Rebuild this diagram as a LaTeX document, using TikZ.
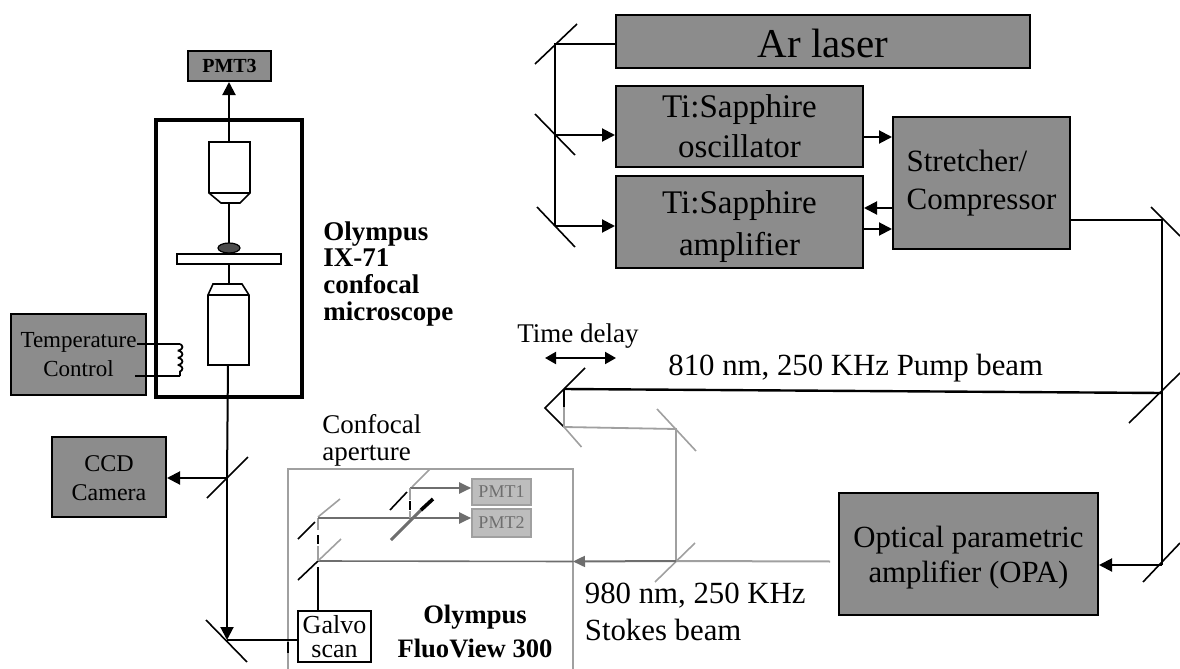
\documentclass[tikz,border=0pt]{standalone}
\usepackage{fontspec}
\setmainfont{Liberation Serif}
\usetikzlibrary{arrows.meta,decorations.pathmorphing}
\definecolor{halft}{HTML}{8C8C8C}
\definecolor{faint}{HTML}{A0A0A0}
\definecolor{midg}{HTML}{6E6E6E}
\definecolor{pmtfill}{HTML}{BDBDBD}
\newcommand{\fsz}[2]{\fontsize{#1}{#2}\selectfont}
\newcommand{\nudge}[2]{\raisebox{#1}[0.7em][0.2em]{#2}}
\tikzset{
  box/.style={draw=black,line width=1pt,fill=halft,inner sep=0pt,align=center,text=black},
  label/.style={inner sep=0pt,anchor=base west,align=left},
  clabel/.style={inner sep=0pt,anchor=base,align=center},
  beam/.style={draw=black,line width=1pt},
  arr/.style={beam,-{Triangle[length=6.5pt,width=6.5pt]}},
  mirror/.style={draw=black,line width=0.8pt},
  gmirror/.style={draw=faint,line width=0.8pt},
  gbeam/.style={draw=faint,line width=0.9pt},
  dbeam/.style={draw=midg,line width=1pt},
  darr/.style={draw=midg,line width=1pt,-{Triangle[length=6pt,width=5.5pt]}},
  pmt/.style={draw=faint,line width=0.8pt,fill=pmtfill,inner sep=0pt,text=midg},
  optic/.style={draw=black,line width=0.8pt,fill=white}
}
\begin{document}
\begin{tikzpicture}[x=0.5pt,y=-0.5pt]
\useasboundingbox (0,0) rectangle (1180,669);

% ---- right-hand boxes
\node[box,minimum width=207pt,minimum height=26.5pt,font=\fsz{20.5}{24}] (ar) at (823,41.5) {\nudge{-2.75pt}{Ar laser}};
\node[box,minimum width=123.5pt,minimum height=40.5pt,font=\fsz{16.5}{20}] (osc) at (739.5,126.5) {Ti:Sapphire\\oscillator};
\node[box,minimum width=123.5pt,minimum height=46pt,font=\fsz{16.5}{21}] (amp) at (739.5,222) {\nudge{-2pt}{Ti:Sapphire}\\\nudge{-2pt}{amplifier}};
\node[box,minimum width=88.5pt,minimum height=66pt,font=\fsz{15.5}{19},align=left] (str) at (981.5,183) {Stretcher/\\Compressor};
\node[box,minimum width=129.5pt,minimum height=61pt,font=\fsz{15.4}{17.5}] (opa) at (968.5,554) {\nudge{-1.5pt}{Optical parametric}\\\nudge{-1.5pt}{amplifier (OPA)}};

% ---- left-hand boxes
\node[box,minimum width=41.5pt,minimum height=15pt,font=\fsz{10}{12}\bfseries] (pmt3) at (229.5,66) {PMT3};
\node[draw=black,line width=1.6pt,minimum width=73pt,minimum height=138.5pt,inner sep=0pt] (scope) at (229,258.5) {};
\node[box,minimum width=67.5pt,minimum height=40.5pt,font=\fsz{11.5}{14.5}] (temp) at (78.5,354.5) {Temperature\\Control};
\node[box,minimum width=57pt,minimum height=40pt,font=\fsz{12}{14.5}] (ccd) at (109,477) {\nudge{-1.5pt}{CCD}\\\nudge{-1.5pt}{Camera}};

% ---- FluoView frame
\draw[draw=faint,line width=0.8pt] (288,669) -- (288,469) -- (573,469) -- (573,669);
\node[pmt,minimum width=29.5pt,minimum height=13pt,font=\fsz{9}{11}] (pmt1) at (501.5,492) {PMT1};
\node[pmt,minimum width=29.5pt,minimum height=14pt,font=\fsz{9}{11}] (pmt2) at (501.5,523) {PMT2};
\node[draw=black,line width=0.9pt,fill=white,minimum width=36.5pt,minimum height=25.5pt,inner sep=0pt,align=center,font=\fsz{13}{11.8}] (galvo) at (334.5,636.5) {Galvo\\scan};

% ---- mirror junctions
\coordinate (j1) at (555,44);
\coordinate (j2) at (555,135);
\coordinate (j3) at (555,226);
\coordinate (r1) at (1162,220);
\coordinate (r2) at (1162,393);
\coordinate (r3) at (1162,565);
\coordinate (d1) at (564,389);
\coordinate (d2) at (564,427);
\coordinate (d3) at (676,429);
\coordinate (d4) at (676,561);
\coordinate (s1) at (318,561);
\coordinate (s2) at (318,518);
\coordinate (p1) at (410,488);
\coordinate (p2) at (410,518);
\coordinate (b1) at (227,478);
\coordinate (b2) at (227,640);

% ---- right mirrors
\draw[mirror] (577,24) -- (535,64);
\draw[mirror] (535,114) -- (575,155);
\draw[mirror] (537,207) -- (575,247);
\draw[mirror] (1151,207) -- (1180,236);
\draw[mirror] (1180,373) -- (1129,423);
\draw[mirror] (1180,543) -- (1143,582);

% ---- pump chain
\draw[beam] (ar.west |- j1) -- (j1) -- (j3);
\draw[arr] (j2) -- (osc.west |- j2);
\draw[arr] (j3) -- (amp.west |- j3);
\coordinate (o1) at (863,137);
\coordinate (a1) at (893,208);
\coordinate (a2) at (863,229);
\draw[arr] (o1) -- (str.west |- o1);
\draw[arr] (a1) -- (amp.east |- a1);
\draw[arr] (a2) -- (str.west |- a2);
\draw[beam] (str.east |- r1) -- (r1) -- (r3);
\draw[arr] (r3) -- (opa.east |- r3);
\draw[beam,line width=1.2pt] (r2) -- (d1);

% ---- delay stage
\coordinate (dtip) at (545,408);
\coordinate (td1) at (545,358);
\coordinate (td2) at (616,358);
\draw[mirror] (585,368) -- (dtip) -- (d2);
\draw[gmirror] (d2) -- (581.5,447);
\draw[beam] (d1) -- (564,407);
\draw[gbeam] (564,407) -- (d2) -- (d3) -- (d4);
\draw[gmirror] (657,409) -- (696,451);
\draw[gmirror] (695,543) -- (655,582);
\draw[beam,{Triangle[length=5.5pt,width=6pt]}-{Triangle[length=5.5pt,width=6pt]}] (td1) -- (td2);

% ---- Stokes beam
\coordinate (sstart) at (830,561.5);
\coordinate (sfr) at (573,561.5);
\draw[draw=faint,line width=1pt] (sstart) -- (d4);
\draw[darr] (d4) -- (sfr);
\draw[dbeam,line width=0.8pt] (sfr) -- (s1);

% ---- FluoView interior
\draw[mirror] (315,522) -- (298,539);
\draw[gmirror] (318,517) -- (340,499);
\draw[gmirror] (341,539) -- (319,560);
\draw[mirror] (318,561) -- (298,580);
\draw[gbeam,line width=1.2pt] (s2) -- (318,530);
\draw[beam,line width=1.3pt] (318,535) -- (318,544);
\draw[gbeam] (318,546) -- (s1);
\draw[beam] (318,567) -- (galvo.north -| 318,0);
\draw[gmirror] (430,469) -- (412,487);
\draw[mirror] (407,492) -- (390,510);
\draw[dbeam,line width=1.3pt] (s2) -- (p2);
\draw[darr,line width=1.2pt] (p2) -- (pmt2.west |- p2);
\draw[darr] (p1) -- (pmt1.west |- p1);
\draw[gbeam] (p1) -- (410,500);
\draw[beam,line width=1.2pt] (410,501) -- (410,510);
\draw[gbeam] (410,511) -- (p2);
\draw[dbeam,line width=1.5pt] (391,540) -- (422,509);
\draw[draw=black,line width=1.8pt] (421,510) -- (433,499);

% ---- microscope
\draw[optic] (209,142) -- (250,142) -- (250,193) -- (240,203) -- (221,203) -- (209,193) -- cycle;
\draw[draw=black,line width=0.6pt] (209,193) -- (250,193);
\coordinate (obtop) at (229,142);
\coordinate (obnose) at (229,203);
\coordinate (slidetop) at (229,254);
\coordinate (slidebot) at (229,264);
\coordinate (lonose) at (229,284);
\coordinate (lobot) at (228,365);
\draw[optic] (213,284) -- (242,284) -- (249,295) -- (249,365) -- (208,365) -- (208,295) -- cycle;
\draw[draw=black,line width=0.6pt] (208,295) -- (249,295);
\draw[arr] (obtop) -- (pmt3.south -| obtop);
\draw[beam] (obnose) -- (slidetop);
\draw[beam] (slidebot) -- (lonose);
\draw[optic] (177,254) rectangle (281,264);
\draw[draw=black,line width=0.6pt,fill=black!70] (229,248) ellipse [x radius=11,y radius=5];

% ---- main vertical beam and branches
\draw[beam] (lobot) -- (b1);
\draw[arr] (b1) -- (b2);
\draw[mirror] (248,457) -- (207,498);
\draw[mirror] (206,620) -- (247,662);
\draw[arr] (b1) -- (ccd.east |- b1);
\draw[beam] (b2) -- (galvo.west |- b2);
\draw[draw=black,line width=0.8pt] (288,642) -- (288,653);

% ---- temperature leads and coil
\coordinate (t1) at (137,344);
\coordinate (t2) at (135,376);
\coordinate (c1) at (180,344);
\coordinate (c2) at (180,376);
\draw[beam,line width=0.9pt] (t1) -- (c1);
\draw[beam,line width=0.9pt] (t2) -- (c2);
\draw[draw=black,line width=0.9pt,decorate,decoration={coil,aspect=0.5,segment length=3.6pt,amplitude=1.2pt}] (c1) -- (c2);

% ---- text labels
\node[label,font=\fsz{13.5}{13.3}\bfseries] (lbix) at (323,320) {Olympus\\IX-71\\confocal\\microscope};
\node[label,font=\fsz{13.5}{13.5}] (lbcf) at (322,460) {Confocal\\aperture};
\node[clabel,font=\fsz{13.3}{17}\bfseries] (lbfv) at (475,657) {Olympus\\FluoView 300};
\node[label,font=\fsz{13.5}{16}] (lbtd) at (517,342) {Time delay};
\node[label,font=\fsz{15.4}{18}] (lbpu) at (668,375) {810 nm, 250 KHz Pump beam};
\node[label,font=\fsz{15.4}{18.5}] (lbst) at (584.5,640) {980 nm, 250 KHz\\Stokes beam};
\end{tikzpicture}
\end{document}
